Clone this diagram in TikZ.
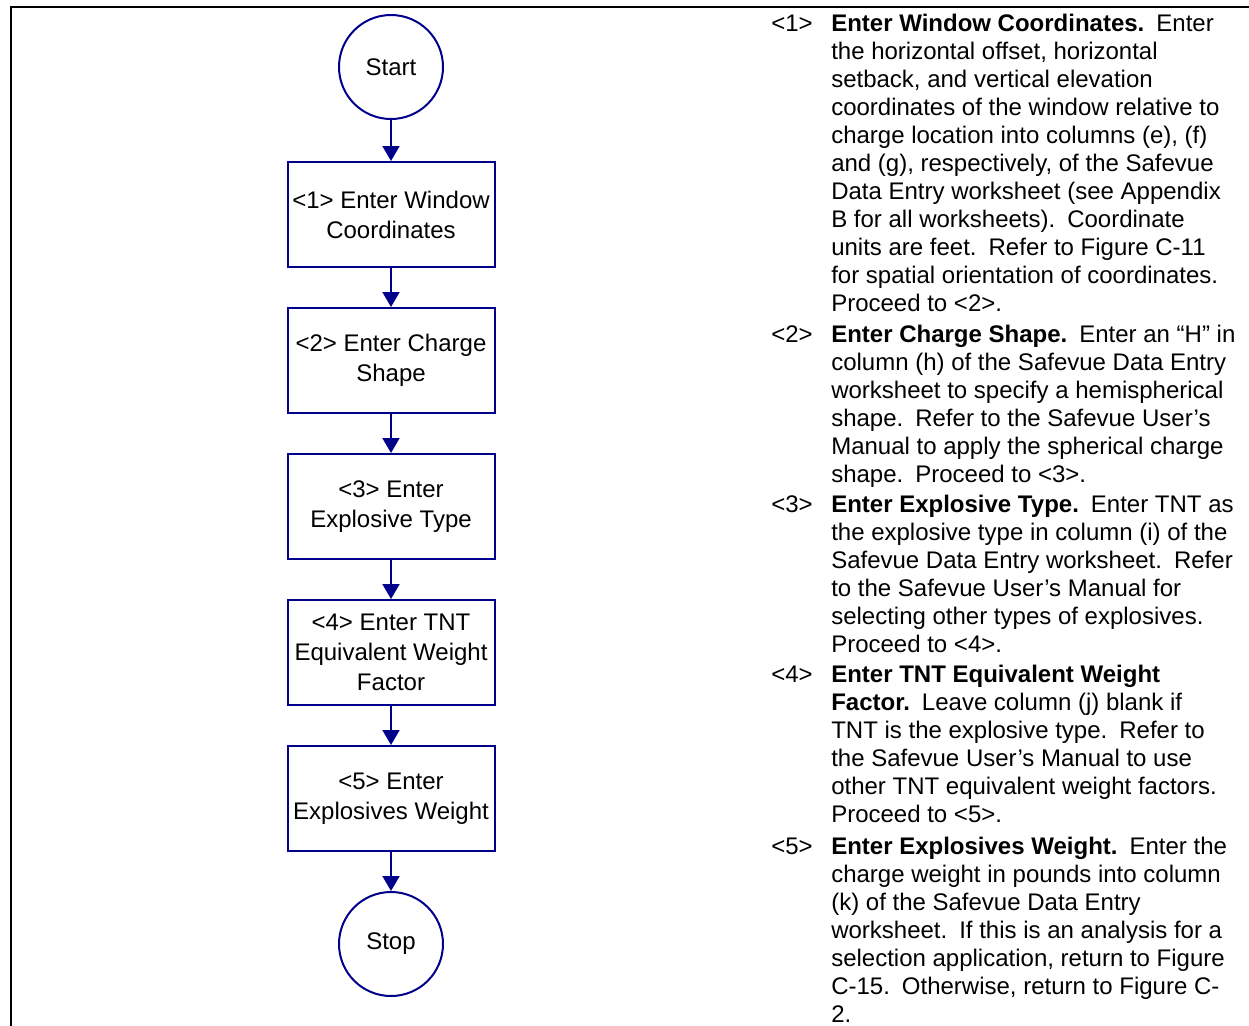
\documentclass[tikz,border=0pt]{standalone}
\usepackage{fontspec}
\setmainfont{Liberation Sans}
\usetikzlibrary{arrows.meta,positioning}
\definecolor{flowblue}{RGB}{0,0,139}

\begin{document}
\begin{tikzpicture}
	[x=0.75pt,y=-0.75pt,
	node distance=29.25pt,
	terminal/.style={circle,draw=flowblue,line width=1.5pt,minimum size=78pt,inner sep=0pt,font=\fontsize{18}{22.5}\selectfont},
	stepbox/.style={rectangle,draw=flowblue,line width=1.5pt,minimum width=155.25pt,minimum height=78.75pt,inner sep=0pt,align=center,font=\fontsize{18}{22.5}\selectfont},
	flow/.style={draw=flowblue,line width=1.5pt,-{Triangle[width=12.75pt,length=11.25pt]}},
	tag/.style={anchor=base west,inner sep=0pt,font=\fontsize{18}{21}\selectfont},
	desc/.style={anchor=base west,inner sep=0pt,align=left,font=\fontsize{18}{21}\selectfont}]
	\useasboundingbox (0,0) rectangle (1249,1025);
	% frame
	\draw[line width=1.5pt] (10.5,1026) -- (10.5,7) -- (1250,7);

	% flow chart
	\node[terminal] (start) at (391,67) {Start};
	\node[stepbox] (s1) at (391,214.5) {<1> Enter Window\\Coordinates};
	\node[stepbox,below=of s1] (s2) {<2> Enter Charge\\Shape};
	\node[stepbox,below=of s2] (s3) {<3> Enter\\Explosive Type};
	\node[stepbox,below=of s3] (s4) {<4> Enter TNT\\Equivalent Weight\\Factor};
	\node[stepbox,below=of s4] (s5) {<5> Enter\\Explosives Weight};
	\node[terminal,below=of s5] (stop) {Stop};
	\foreach \from/\to in {start/s1,s1/s2,s2/s3,s3/s4,s4/s5,s5/stop}
		\draw[flow] (\from) -- (\to);

	% step notes (desc nodes sit on their last baseline)
	\node[tag] (t1) at (771,31) {<1>};
	\node[desc] (d1) at (831,311) {\textbf{Enter Window Coordinates.}\enspace Enter\\
		the horizontal offset, horizontal\\
		setback, and vertical elevation\\
		coordinates of the window relative to\\
		charge location into columns (e), (f)\\
		and (g), respectively, of the Safevue\\
		Data Entry worksheet (see Appendix\\
		B for all worksheets).\enspace Coordinate\\
		units are feet.\enspace Refer to Figure C-11\\
		for spatial orientation of coordinates.\\
		Proceed to <2>.};
	\node[tag] (t2) at (771,342) {<2>};
	\node[desc] (d2) at (831,482) {\textbf{Enter Charge Shape.}\enspace Enter an “H” in\\
		column (h) of the Safevue Data Entry\\
		worksheet to specify a hemispherical\\
		shape.\enspace Refer to the Safevue User’s\\
		Manual to apply the spherical charge\\
		shape.\enspace Proceed to <3>.};
	\node[tag] (t3) at (771,512) {<3>};
	\node[desc] (d3) at (831,652) {\textbf{Enter Explosive Type.}\enspace Enter TNT as\\
		the explosive type in column (i) of the\\
		Safevue Data Entry worksheet.\enspace Refer\\
		to the Safevue User’s Manual for\\
		selecting other types of explosives.\\
		Proceed to <4>.};
	\node[tag] (t4) at (771,682) {<4>};
	\node[desc] (d4) at (831,822) {\textbf{Enter TNT Equivalent Weight}\\
		\textbf{Factor.}\enspace Leave column (j) blank if\\
		TNT is the explosive type.\enspace Refer to\\
		the Safevue User’s Manual to use\\
		other TNT equivalent weight factors.\\
		Proceed to <5>.};
	\node[tag] (t5) at (771,854) {<5>};
	\node[desc] (d5) at (831,1022) {\textbf{Enter Explosives Weight.}\enspace Enter the\\
		charge weight in pounds into column\\
		(k) of the Safevue Data Entry\\
		worksheet.\enspace If this is an analysis for a\\
		selection application, return to Figure\\
		C-15.\enspace Otherwise, return to Figure C-\\
		2.};
\end{tikzpicture}
\end{document}
